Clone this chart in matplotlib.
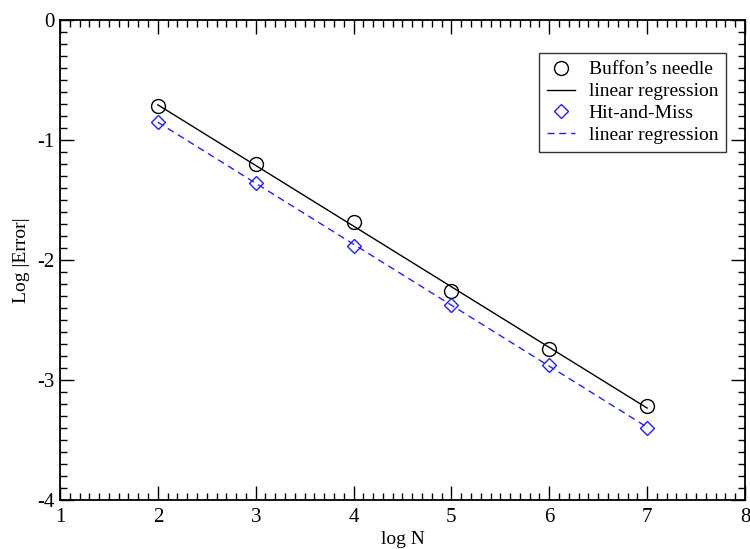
import numpy as np
import matplotlib
matplotlib.use("Agg")
import matplotlib.pyplot as plt
from matplotlib.ticker import MultipleLocator

log_n = [2, 3, 4, 5, 6, 7]
buffon = [-0.717, -1.203, -1.686, -2.258, -2.742, -3.217]
hitmiss = [-0.847, -1.361, -1.880, -2.375, -2.875, -3.397]

plt.rcParams['font.family'] = ['Liberation Serif', 'DejaVu Serif']
plt.rcParams['axes.unicode_minus'] = False

fig = plt.figure(figsize=(7.5, 5.49), dpi=100)
ax = fig.add_axes([0.08, 0.0893, 0.9133, 0.8743])

x = np.array(log_n, dtype=float)
b = np.array(buffon)
h = np.array(hitmiss)
pb = np.polyfit(x, b, 1)
ph = np.polyfit(x, h, 1)
xf = np.array([x.min(), x.max()])

ax.plot(x, b, 'o', ms=10, mfc='none', mec='black', mew=1.0, label="Buffon\u2019s needle", zorder=3)
ax.plot(xf, np.polyval(pb, xf), '-', color='black', lw=1.0, label='linear regression')
ax.plot(x, h, 'D', ms=7, mfc='none', mec='#2020ff', mew=1.0, label='Hit-and-Miss', zorder=3)
ax.plot(xf, np.polyval(ph, xf), '--', color='#2020ff', lw=1.0, dashes=(5, 3.5), label='linear regression')

ax.set_xlim(1, 8)
ax.set_ylim(-4, 0)
ax.xaxis.set_major_locator(MultipleLocator(1))
ax.xaxis.set_minor_locator(MultipleLocator(0.1))
ax.yaxis.set_major_locator(MultipleLocator(1))
ax.yaxis.set_minor_locator(MultipleLocator(0.1))
ax.tick_params(which='both', direction='in', top=True, right=True, width=1.0, labelsize=15, pad=6)
ax.tick_params(axis='y', which='both', pad=4)
ax.tick_params(which='major', length=10)
ax.tick_params(which='minor', length=5)
for s in ax.spines.values():
    s.set_linewidth(1.3)

ax.set_xlabel('log N', fontsize=14, labelpad=3)
ax.set_ylabel('Log |Error|', fontsize=14, labelpad=5)

leg = ax.legend(loc='upper right', bbox_to_anchor=(0.972, 0.931), borderaxespad=0, fontsize=14,
                frameon=True, fancybox=False, edgecolor='black', handlelength=1.45,
                labelspacing=0.22, borderpad=0.4, handletextpad=0.7)
leg.get_frame().set_linewidth(1.0)

fig.savefig('out.png', dpi=100)
